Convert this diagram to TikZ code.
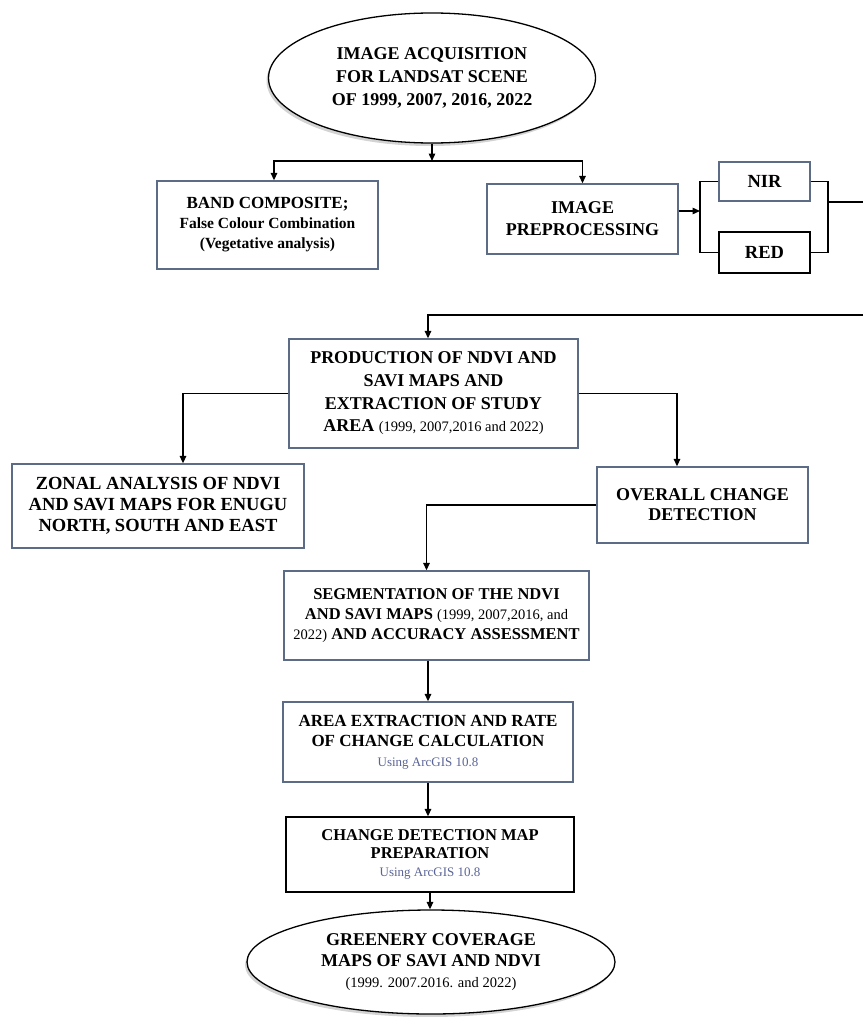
\documentclass[tikz,border=0pt]{standalone}
\usepackage{fontspec}
\setmainfont{Liberation Serif}
\usepackage{xcolor}
\usepackage{tikz}
\usetikzlibrary{arrows.meta,positioning,shapes.geometric,shadows}
\definecolor{slate}{RGB}{92,108,134}
\definecolor{notegray}{RGB}{90,100,150}
\newcommand{\yrs}[1]{{\mdseries\fontsize{14.5}{20}\selectfont #1}}
\newcommand{\arcnote}{{\mdseries\fontsize{13}{16}\selectfont\color{notegray}Using ArcGIS 10.8}}
\tikzset{
  box/.style={draw=slate, line width=1.3pt, fill=white, align=center, inner sep=0pt,
              font=\bfseries\fontsize{18.5}{21}\selectfont},
  boxdark/.style={box, draw=black},
  oval/.style={ellipse, draw=black, line width=1.3pt, fill=white, align=center, inner sep=0pt,
               font=\bfseries\fontsize{18}{23}\selectfont,
               drop shadow={opacity=0.35, shadow xshift=-2pt, shadow yshift=-3pt}},
  flow/.style={-{Triangle[length=7.5pt,width=6.5pt]}, line width=1.4pt},
  wire/.style={line width=1.4pt},
}

\begin{document}
\begin{tikzpicture}[x=1pt, y=-1pt]
  \useasboundingbox (0,0) rectangle (863,1017);
  % acquisition
  \node[oval, minimum width=327pt, minimum height=130pt] (acq) at (432,78)
    {IMAGE ACQUISITION\\FOR LANDSAT SCENE\\OF 1999, 2007, 2016, 2022};
  % first split
  \node[box, minimum width=221pt, minimum height=88pt, font=\bfseries\fontsize{17}{20}\selectfont] (band) at (267.5,225)
    {BAND COMPOSITE;\\{\fontsize{15.5}{20}\selectfont False Colour Combination}\\{\fontsize{15.5}{20}\selectfont (Vegetative analysis)}};
  \node[box, minimum width=191pt, minimum height=70pt, font=\bfseries\fontsize{18}{22}\selectfont] (prep) at (582.5,219)
    {IMAGE\\PREPROCESSING};
  \node[box, minimum width=91pt, minimum height=39pt] (nir) at (764.5,181.5) {NIR};
  \node[boxdark, minimum width=91pt, minimum height=41pt] (red) at (764.5,252.5) {RED};
  % maps
  \node[box, minimum width=289pt, minimum height=109pt, font=\bfseries\fontsize{18}{22.7}\selectfont] (prod) at (433.5,393.5)
    {PRODUCTION OF NDVI AND\\SAVI MAPS AND\\EXTRACTION OF STUDY\\AREA \yrs{(1999, 2007,2016 and 2022)}};
  \node[box, minimum width=292pt, minimum height=84pt] (zonal) at (158,506)
    {ZONAL ANALYSIS OF NDVI\\AND SAVI MAPS FOR ENUGU\\NORTH, SOUTH AND EAST};
  \node[box, minimum width=211pt, minimum height=76pt, font=\bfseries\fontsize{18}{20}\selectfont] (overall) at (702.5,505)
    {OVERALL CHANGE\\DETECTION};
  % change chain
  \node[box, minimum width=305pt, minimum height=89pt, font=\bfseries\fontsize{16.5}{20}\selectfont] (seg) at (436.5,615.5)
    {SEGMENTATION OF THE NDVI\\AND SAVI MAPS \yrs{(1999, 2007,2016, and}\\\yrs{2022)} AND ACCURACY ASSESSMENT};
  \node[box, minimum width=290pt, minimum height=80pt, font=\bfseries\fontsize{17}{20}\selectfont] (area) at (428,742)
    {AREA EXTRACTION AND RATE\\OF CHANGE CALCULATION\\\arcnote};
  \node[boxdark, minimum width=288pt, minimum height=75pt, font=\bfseries\fontsize{16.5}{18}\selectfont] (chg) at (430,854.5)
    {CHANGE DETECTION MAP\\PREPARATION\\\arcnote};
  \node[oval, minimum width=368pt, minimum height=104pt, font=\bfseries\fontsize{18}{21}\selectfont] (green) at (431,962)
    {GREENERY COVERAGE\\MAPS OF SAVI AND NDVI\\\yrs{(1999. 2007.2016. and 2022)}};
  % connectors
  \coordinate (split) at (432,161);
  \coordinate (fork) at (700,211);
  \coordinate (join) at (828,202);
  \coordinate (out1) at (863,202);
  \coordinate (in1) at (863,315);
  \draw[flow] (acq.south) -- (split);
  \draw[flow] (split) -| ([xshift=6.5pt]band.north);
  \draw[flow] (split) -| (prep.north);
  \draw[flow] (prep.east |- fork) -- (fork);
  \draw[wire] (nir.west) -| (fork) |- (red.west);
  \draw[wire] (nir.east) -| (join) |- (red.east);
  \draw[wire] (join) -- (out1);
  \draw[flow] (in1) -| ([xshift=-5.5pt]prod.north);
  \draw[flow] (prod.west) -| ([xshift=25pt]zonal.north);
  \draw[flow] (prod.east) -| ([xshift=-25.5pt]overall.north);
  \draw[flow] (overall.west) -| ([xshift=-10pt]seg.north);
  \draw[flow] (seg.south -| area.north) -- (area.north);
  \draw[flow] (area.south) -- (area.south |- chg.north);
  \draw[flow] (chg.south) -- (chg.south |- green.north);
\end{tikzpicture}
\end{document}
